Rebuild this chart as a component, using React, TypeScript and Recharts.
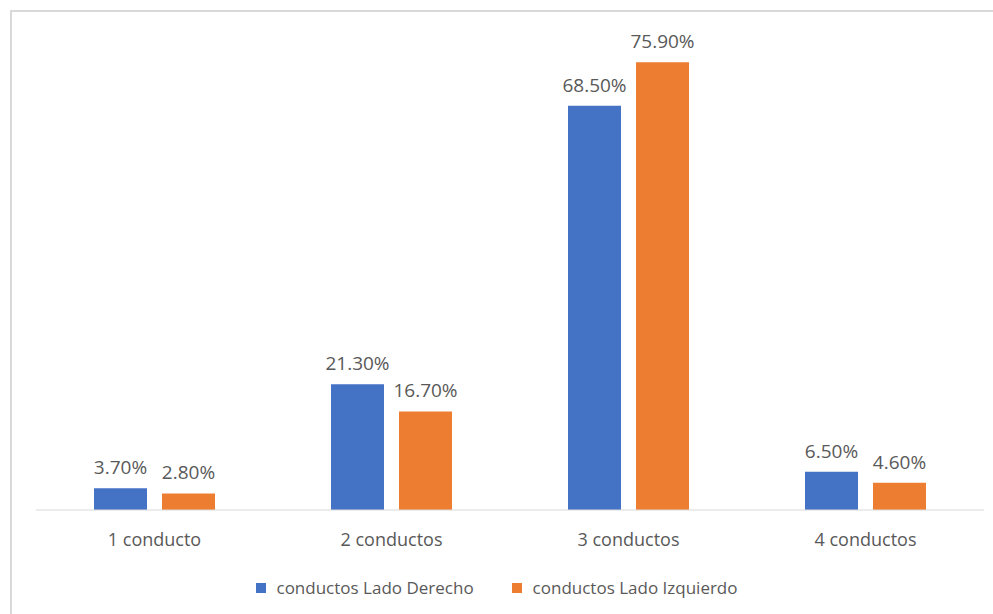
import React from 'react';
import { BarChart, Bar, XAxis, YAxis, LabelList, Legend } from 'recharts';

const categories = ['1 conducto', '2 conductos', '3 conductos', '4 conductos'];
const derecho = [3.7, 21.3, 68.5, 6.5];
const izquierdo = [2.8, 16.7, 75.9, 4.6];
const seriesNames = ['conductos Lado Derecho', 'conductos Lado Izquierdo'];
const seriesColors = ['#4472C4', '#ED7D31'];

const data = categories.map((c, i) => ({ name: c, der: derecho[i], izq: izquierdo[i] }));

const FONT = '"Open Sans", "Noto Sans", sans-serif';
const TEXT = '#595959';

const fmt = (v: any) => `${Number(v).toFixed(2)}%`;

const LegendContent = () => (
  <div style={{ display: 'flex', justifyContent: 'center', alignItems: 'center', paddingTop: 38, fontFamily: FONT, fontSize: 17, color: TEXT }}>
    {seriesNames.map((n, i) => (
      <div key={n} style={{ display: 'flex', alignItems: 'center', marginRight: i === 0 ? 38 : 0 }}>
        <span style={{ width: 10, height: 10, background: seriesColors[i], display: 'inline-block', marginRight: 11 }} />
        <span style={{ lineHeight: '20px' }}>{n}</span>
      </div>
    ))}
  </div>
);

export default function App() {
  return (
    <div style={{ position: 'fixed', left: 0, top: 0, width: 993, height: 614, background: '#fff', overflow: 'hidden' }}>
      <div style={{ position: 'absolute', left: 10, top: 10, width: 990, height: 610, borderTop: '2px solid #d9d9d9', borderLeft: '2px solid #d9d9d9', boxSizing: 'border-box' }} />
      <div style={{ position: 'absolute', left: 0, top: 0 }}>
        <BarChart width={993} height={614} data={data} margin={{ top: 38, right: 9, left: 36, bottom: 0 }} barGap={15} barSize={53}>
          <XAxis
            dataKey="name"
            height={30}
            axisLine={{ stroke: '#d9d9d9', strokeWidth: 1 }}
            tickLine={false}
            tickSize={0}
            tickMargin={23}
            tick={{ fill: TEXT, fontSize: 18, fontFamily: FONT }}
          />
          <YAxis hide domain={[0, 80]} />
          <Legend verticalAlign="bottom" height={74} content={<LegendContent />} wrapperStyle={{ height: 74, left: 0, width: 993 }} />
          <Bar dataKey="der" name={seriesNames[0]} fill={seriesColors[0]} isAnimationActive={false}>
            <LabelList dataKey="der" position="top" offset={14} formatter={fmt} style={{ fill: TEXT, fontSize: 19, fontFamily: FONT }} />
          </Bar>
          <Bar dataKey="izq" name={seriesNames[1]} fill={seriesColors[1]} isAnimationActive={false}>
            <LabelList dataKey="izq" position="top" offset={14} formatter={fmt} style={{ fill: TEXT, fontSize: 19, fontFamily: FONT }} />
          </Bar>
        </BarChart>
      </div>
    </div>
  );
}
